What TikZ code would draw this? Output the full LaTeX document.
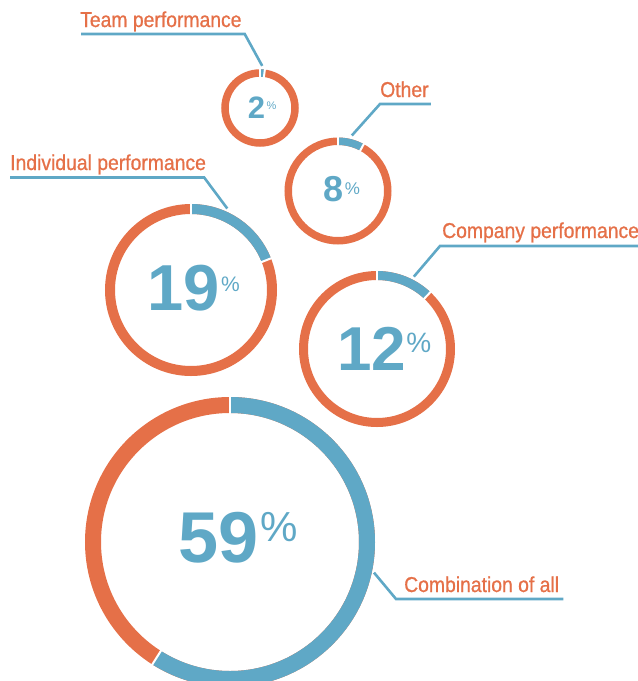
\documentclass[tikz,border=0pt]{standalone}
\usepackage{fontspec}
\usetikzlibrary{calc}
\newfontfamily\labelfont[FakeStretch=0.9, FakeBold=0.8]{Liberation Sans}
\newfontfamily\numfont{Liberation Sans}
\definecolor{ringorange}{RGB}{229,112,72}
\definecolor{ringblue}{RGB}{95,168,198}

\begin{document}
\begin{tikzpicture}[
        x=1pt, y=1pt, % one unit = one pixel of the layout
        rest/.style = {draw=ringorange}, % orange part of a ring
        part/.style = {draw=ringblue}, % blue share of a ring
        cut/.style = {draw=white, line width=2pt}, % gap between the two parts
        spot/.style = {circle, inner sep=0pt}, % ring centres
        leader/.style = {draw=ringblue, line width=2.6pt, line join=miter},
        lbl/.style = {anchor=base west, inner sep=0pt, text=ringorange, font=\labelfont\fontsize{21.5}{22}\selectfont},
        pct/.style = {inner sep=0pt, text=ringblue, font=\numfont\bfseries\fontsize{#1}{#1}\selectfont},
        sign/.style = {anchor=north west, inner sep=0pt, text=ringblue, font=\numfont\fontsize{#1}{#1}\selectfont},
    ]
    \useasboundingbox (0,0) rectangle (638,-681);

    % ring centres
    \node[spot, minimum size=84] (team) at (260,-108) {};
    \node[spot, minimum size=114] (other) at (338,-191) {};
    \node[spot, minimum size=178] (indiv) at (191,-290) {};
    \node[spot, minimum size=162] (comp) at (377,-349) {};
    \node[spot, minimum size=294] (all) at (230,-542) {};

    % team 2%
    \draw[rest, line width=7.5pt] (team) circle[radius=35];
    \draw[part, line width=7.5pt] ($(team)+(90:35)$) arc[start angle=90, end angle=82.8, radius=35];
    \draw[cut] ($(team)+(90:30)$) -- ($(team)+(90:40)$);
    \draw[cut] ($(team)+(82.8:30)$) -- ($(team)+(82.8:40)$);

    % other 8%
    \draw[rest, line width=7.5pt] (other) circle[radius=49.75];
    \draw[part, line width=7.5pt] ($(other)+(90:49.75)$) arc[start angle=90, end angle=61.2, radius=49.75];
    \draw[cut] ($(other)+(90:45)$) -- ($(other)+(90:55)$);
    \draw[cut] ($(other)+(61.2:45)$) -- ($(other)+(61.2:55)$);

    % individual 19%
    \draw[rest, line width=10pt] (indiv) circle[radius=81];
    \draw[part, line width=10pt] ($(indiv)+(90:81)$) arc[start angle=90, end angle=21.6, radius=81];
    \draw[cut] ($(indiv)+(90:75)$) -- ($(indiv)+(90:87)$);
    \draw[cut] ($(indiv)+(21.6:75)$) -- ($(indiv)+(21.6:87)$);

    % company 12%
    \draw[rest, line width=9pt] (comp) circle[radius=73.5];
    \draw[part, line width=9pt] ($(comp)+(90:73.5)$) arc[start angle=90, end angle=46.8, radius=73.5];
    \draw[cut] ($(comp)+(90:68)$) -- ($(comp)+(90:79)$);
    \draw[cut] ($(comp)+(46.8:68)$) -- ($(comp)+(46.8:79)$);

    % combination 59%
    \draw[rest, line width=16pt] (all) circle[radius=137];
    \draw[part, line width=16pt] ($(all)+(90:137)$) arc[start angle=90, end angle=-122.4, radius=137];
    \draw[cut] ($(all)+(90:128)$) -- ($(all)+(90:146)$);
    \draw[cut] ($(all)+(-122.4:128)$) -- ($(all)+(-122.4:146)$);

    % numbers
    \node[pct=31] (team-num) at (256.5,-108) {2};
    \node[sign=11] (team-sign) at ([shift={(1,-5)}]team-num.north east) {\%};
    \node[pct=36] (other-num) at (333.5,-189) {8};
    \node[sign=17] (other-sign) at ([shift={(1,-6)}]other-num.north east) {\%};
    \node[pct=65] (indiv-num) at (183.5,-288) {19};
    \node[sign=21] (indiv-sign) at ([shift={(1,-12)}]indiv-num.north east) {\%};
    \node[pct=62] (comp-num) at (371.5,-348.5) {12};
    \node[sign=28] (comp-sign) at ([shift={(0,-6)}]comp-num.north east) {\%};
    \node[pct=72] (all-num) at (219,-537.5) {59};
    \node[sign=42] (all-sign) at ([xshift=1]all-num.north east) {\%};

    % labels with leader lines
    \node[lbl] (team-lbl) at (80,-27) {Team performance};
    \draw[leader] ([shift={(1,-7)}]team-lbl.base west) -- ([shift={(3,-7)}]team-lbl.base east) -- (team.87);

    \node[lbl] (other-lbl) at (380,-97) {Other};
    \draw[leader] ([shift={(2,-7)}]other-lbl.base east) -- ([shift={(0,-7)}]other-lbl.base west) -- (other.76);

    \node[lbl] (indiv-lbl) at (10,-170) {Individual performance};
    \draw[leader] ([shift={(0,-7.5)}]indiv-lbl.base west) -- ([shift={(-2,-7.5)}]indiv-lbl.base east) -- (indiv.66);

    \node[lbl] (comp-lbl) at (442,-238) {Company performance};
    \draw[leader] ([shift={(0,-8)}]comp-lbl.base east) -- ([shift={(-2,-8)}]comp-lbl.base west) -- (comp.63);

    \node[lbl] (all-lbl) at (404,-592) {Combination of all};
    \draw[leader] ([shift={(4,-7)}]all-lbl.base east) -- ([shift={(-8,-7)}]all-lbl.base west) -- (all.-12);
\end{tikzpicture}
\end{document}
